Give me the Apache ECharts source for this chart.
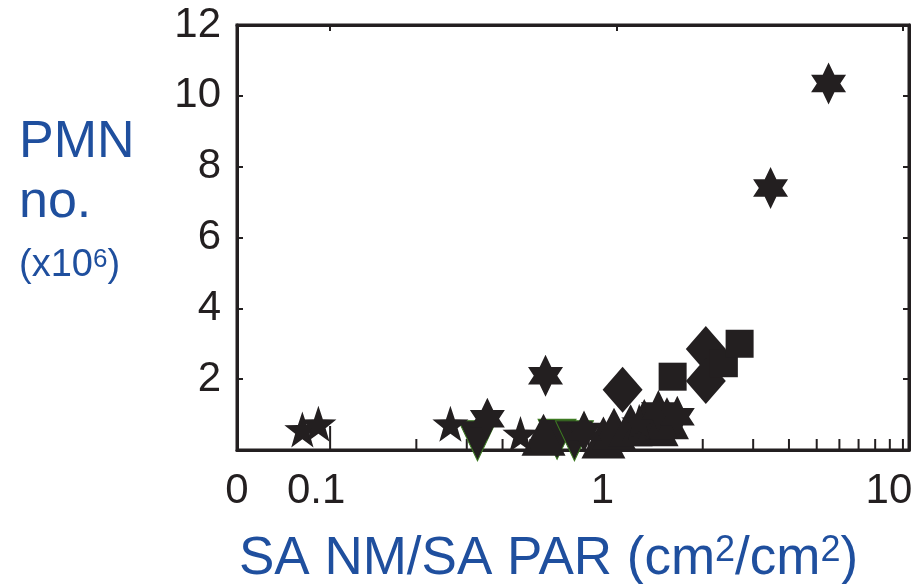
<!DOCTYPE html>
<html>
<head>
<meta charset="utf-8">
<script src="https://cdn.jsdelivr.net/npm/echarts@6/dist/echarts.min.js"></script>
<style>
html,body{margin:0;padding:0;background:#fff}
#main{width:920px;height:584px}
</style>
</head>
<body>
<div id="main"></div>
<script>
// marker data: [SA NM / SA PAR, PMN no. (x10^6)]
var hexStars = [[5.5,10.35],[3.45,7.4],[0.565,2.1],[0.354,0.88],[0.77,0.52],[1.4,1.1],[1.63,0.94]]
var fiveStars = [[0.08,0.58],[0.091,0.74],[0.263,0.74],[0.462,0.45],[1.2,0.8]]
var trianglesUp = [[0.556,0.43],[0.9,0.35],[0.98,0.6],[1.12,0.7],[1.25,0.85],[1.38,0.7],[1.5,0.9]]
var trianglesDown = [[0.327,0.26],[0.62,0.3],[0.713,0.26]]
var diamonds = [[1.05,1.7],[2.05,2.85],[2.05,1.95]]
var squares = [[1.57,2.07],[2.37,2.45],[2.69,3.0]]
// bottom axis tick positions
var xTicks = [0.1,0.2,0.3,0.4,0.5,0.6,0.7,0.8,0.9,2,3,4,5,6,7,8,9,10]

var ink = '#231f20'
var blue = '#1f4f9e'
var font = 'Liberation Sans, Arial, sans-serif'
var hexPath = 'path://M0,-12 L2.9,-5 8.66,-5 5.8,0 8.66,5 2.9,5 0,12 -2.9,5 -8.66,5 -5.8,0 -8.66,-5 -2.9,-5 Z'
var starPath = 'path://M0,-10 L2.35,-3.24 9.51,-3.09 3.8,1.24 5.88,8.09 0,4 -5.88,8.09 -3.8,1.24 -9.51,-3.09 -2.35,-3.24 Z'

var chart = echarts.init(document.getElementById('main'))

function marks(name, data, symbol, size, extra) {
	var s = {name: name, type: 'scatter', data: data, symbol: symbol, symbolSize: size,
		itemStyle: {color: ink, opacity: 1}, z: 3, silent: true}
	return Object.assign(s, extra || {})
}

var option = {
	animation: false,
	grid: {left: 237, right: 11, top: 25, bottom: 134, show: true, borderColor: ink, borderWidth: 3, backgroundColor: 'transparent'},
	title: [
		{text: 'PMN', left: 14, top: 112, textStyle: {fontSize: 52, color: blue, fontWeight: 'normal', fontFamily: font}},
		{text: 'no.', left: 14, top: 172, textStyle: {fontSize: 52, color: blue, fontWeight: 'normal', fontFamily: font}},
		{text: '(x10{s|6})', left: 14, top: 242, textStyle: {fontSize: 38, color: blue, fontWeight: 'normal', fontFamily: font,
			rich: {s: {fontSize: 26, color: blue, fontFamily: font, verticalAlign: 'top', padding: [0,0,12,0]}}}},
		{text: 'SA NM/SA PAR (cm{s|2}/cm{s|2})', left: 234, top: 528, textStyle: {fontSize: 53, color: blue, fontWeight: 'normal', fontFamily: font,
			rich: {s: {fontSize: 36, color: blue, fontFamily: font, verticalAlign: 'top', padding: [0,0,16,0]}}}}
	],
	xAxis: [{
		type: 'log', position: 'bottom', min: 0.0473, max: 10.5,
		axisLine: {onZero: false, lineStyle: {color: ink, width: 3}},
		axisTick: {show: false},
		splitLine: {show: false},
		axisLabel: {
			color: ink, fontSize: 42, fontFamily: font, margin: 20,
			showMinLabel: true, showMaxLabel: false,
			formatter: function (v) {
				if (v < 0.08) return '0'
				if (v > 10.2) return ''
				return '{s|' + (+v.toPrecision(3)) + '}'
			},
			rich: {s: {fontSize: 42, color: ink, fontFamily: font, padding: [0, 28, 0, 0]}}
		}
	}, {
		type: 'log', position: 'top', min: 0.0473, max: 10.5,
		axisLine: {show: true, onZero: false, lineStyle: {color: ink, width: 3}},
		axisTick: {show: true, inside: true, length: 6, lineStyle: {color: ink, width: 2}},
		axisLabel: {show: false},
		splitLine: {show: false}
	}],
	yAxis: [{
		type: 'value', position: 'left', min: 0, max: 12, interval: 2,
		axisLine: {show: true, onZero: false, lineStyle: {color: ink, width: 3}},
		axisTick: {show: true, inside: true, length: 6, lineStyle: {color: ink, width: 2}},
		splitLine: {show: false},
		axisLabel: {color: ink, fontSize: 42, fontFamily: font, margin: 16, showMinLabel: false,
			formatter: function (v) { return v === 0 ? '' : v }}
	}, {
		type: 'value', position: 'right', min: 0, max: 12, interval: 2,
		axisLine: {show: true, onZero: false, lineStyle: {color: ink, width: 3}},
		axisTick: {show: true, inside: true, length: 6, lineStyle: {color: ink, width: 2}},
		splitLine: {show: false},
		axisLabel: {show: false}
	}],
	series: [
		{
			name: 'ticks', type: 'scatter', silent: true, z: 1,
			data: xTicks.map(function (t) { return [t, 0] }),
			symbol: 'rect',
			symbolSize: function (d) { return d[0] === 0.1 ? [2, 24] : [2, 11] },
			symbolOffset: function (d) { return d[0] === 0.1 ? [0, -12] : [0, -5.5] },
			itemStyle: {color: ink, opacity: 1}
		},
		// binds the top and right axes so they are drawn
		{name: 'frame', type: 'scatter', xAxisIndex: 1, yAxisIndex: 1, data: [], silent: true},
		marks('down', trianglesDown, 'path://M0,0 L10,0 5,9 Z', [38, 40],
			{itemStyle: {color: ink, opacity: 1, borderColor: '#3d7a22', borderWidth: 1}}),
		marks('up', trianglesUp, 'triangle', [44, 42]),
		marks('five', fiveStars, starPath, [36, 36]),
		marks('hex', hexStars, hexPath, [35, 42]),
		marks('diamond', diamonds, 'diamond', [40, 46]),
		marks('square', squares, 'rect', [28, 28])
	]
}

option && chart.setOption(option)
</script>
</body>
</html>
